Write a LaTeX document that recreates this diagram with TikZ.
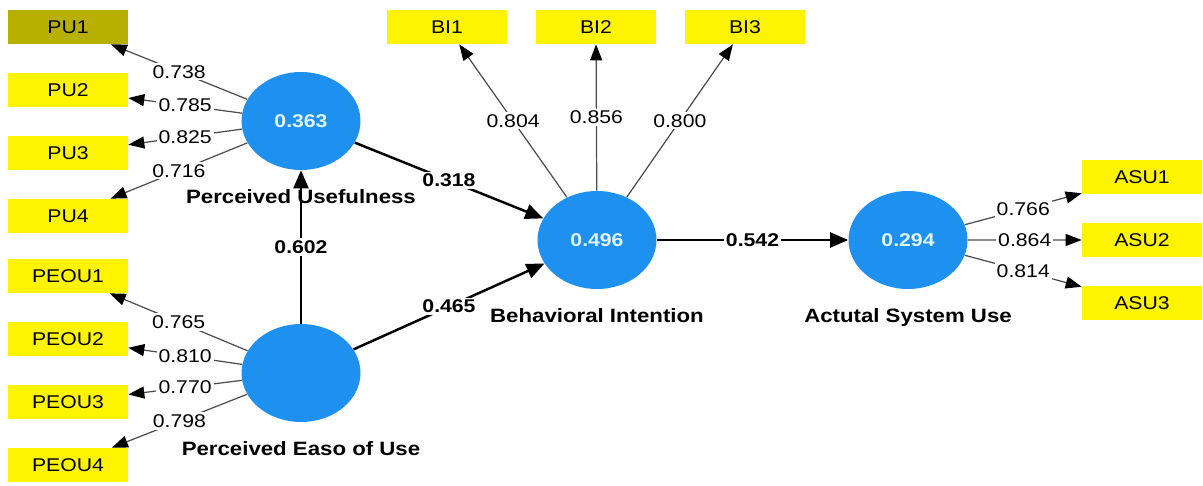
\documentclass[tikz,border=0pt]{standalone}
\usepackage{fontspec}
\setmainfont{Liberation Sans}[FakeStretch=1.15]
\usetikzlibrary{arrows.meta,positioning,shapes.geometric}

\definecolor{lvblue}{RGB}{30,144,240}
\definecolor{lvtext}{RGB}{225,245,255}
\definecolor{mvyellow}{RGB}{255,244,0}
\definecolor{mvolive}{RGB}{184,176,0}

\begin{document}
\begin{tikzpicture}[->, >={Triangle[length=0.32cm,width=0.24cm,color=black]}, x=0.02cm, y=-0.02cm, node distance=1.26cm, font=\fontsize{10.5}{12}\selectfont]
\tikzstyle{latent}=[ellipse,fill=lvblue,draw=none,minimum width=2.38cm,minimum height=1.96cm,inner sep=0pt,text=lvtext,font=\fontsize{10.5}{12}\selectfont\bfseries]
\tikzstyle{indicator}=[rectangle,fill=mvyellow,minimum width=2.4cm,minimum height=0.68cm,inner sep=0pt]
\tikzstyle{lvname}=[inner sep=0pt,font=\fontsize{11}{13}\selectfont\bfseries]
\tikzstyle{loading}=[fill=white,inner sep=1.2pt,text=black]
\tikzstyle{coef}=[fill=white,inner sep=1.2pt,text=black,font=\fontsize{10.5}{12}\selectfont\bfseries]
\tikzstyle{outer}=[draw=black!70,line width=0.7pt]
\tikzstyle{structural}=[draw=black,line width=1.4pt,-{Triangle[length=0.36cm,width=0.3cm]}]
\useasboundingbox (0,0) rectangle (1203,486);
% latent variables
\node[latent] (PU)   at (301,121) {0.363};
\node[latent] (PEOU) at (301,373) {};
\node[latent] (BI)   at (597,240) {0.496};
\node[latent] (ASU)  at (908,240) {0.294};
\node[lvname] (PUname)   [below=0.38cm of PU]   {Perceived Usefulness};
\node[lvname] (PEOUname) [below=0.38cm of PEOU] {Perceived Easo of Use};
\node[lvname] (BIname)   [below=0.38cm of BI]   {Behavioral Intention};
\node[lvname] (ASUname)  [below=0.38cm of ASU]  {Actutal System Use};
% indicators
\node[indicator,fill=mvolive] (PU1) at (68,27) {PU1};
\node[indicator] (PU2) [below of=PU1] {PU2};
\node[indicator] (PU3) [below of=PU2] {PU3};
\node[indicator] (PU4) [below of=PU3] {PU4};
\node[indicator] (PEOU1) at (68,276) {PEOU1};
\node[indicator] (PEOU2) [below of=PEOU1] {PEOU2};
\node[indicator] (PEOU3) [below of=PEOU2] {PEOU3};
\node[indicator] (PEOU4) [below of=PEOU3] {PEOU4};
\node[indicator] (BI1) at (447,27) {BI1};
\node[indicator] (BI2) [right of=BI1, node distance=2.98cm] {BI2};
\node[indicator] (BI3) [right of=BI2, node distance=2.98cm] {BI3};
\node[indicator] (ASU1) at (1142,177) {ASU1};
\node[indicator] (ASU2) [below of=ASU1] {ASU2};
\node[indicator] (ASU3) [below of=ASU2] {ASU3};
% outer loadings
\path
(PU)   edge[outer] node[loading]{0.738} (PU1)
       edge[outer] node[loading]{0.785} (PU2)
       edge[outer] node[loading]{0.825} (PU3)
       edge[outer] node[loading]{0.716} (PU4)
(PEOU) edge[outer] node[loading]{0.765} (PEOU1)
       edge[outer] node[loading]{0.810} (PEOU2)
       edge[outer] node[loading]{0.770} (PEOU3)
       edge[outer] node[loading]{0.798} (PEOU4)
(BI)   edge[outer] node[loading]{0.804} (BI1)
       edge[outer] node[loading]{0.856} (BI2)
       edge[outer] node[loading]{0.800} (BI3)
(ASU)  edge[outer] node[loading]{0.766} (ASU1)
       edge[outer] node[loading]{0.864} (ASU2)
       edge[outer] node[loading]{0.814} (ASU3);
% path coefficients
\path
(PEOU) edge[structural] node[coef]{0.602} (PU)
       edge[structural] node[coef]{0.465} (BI)
(PU)   edge[structural] node[coef]{0.318} (BI)
(BI)   edge[structural] node[coef]{0.542} (ASU);
\end{tikzpicture}
\end{document}
